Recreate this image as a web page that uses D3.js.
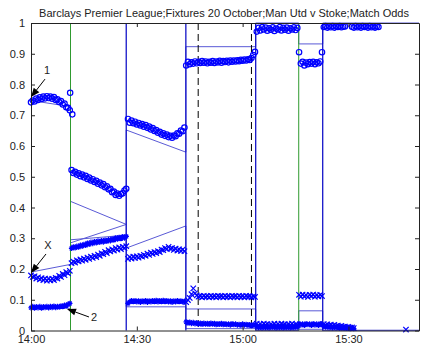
<!DOCTYPE html>
<html>
<head>
<meta charset="utf-8">
<script src="https://cdn.jsdelivr.net/npm/d3@7"></script>
<style>
  body { margin: 0; background: #fff; }
  svg { display: block; font-family: "Liberation Sans", Arial, sans-serif; }
</style>
</head>
<body>
<div id="chart"></div>
<script>
// Match odds sampled every 30 seconds; times are minutes after 14:00
const sampleStep = 0.5;
const xTickMinutes = [0, 30, 60, 90];
const xTickLabels = ["14:00", "14:30", "15:00", "15:30"];
const yTickValues = [0, 0.1, 0.2, 0.3, 0.4, 0.5, 0.6, 0.7, 0.8, 0.9, 1];
const yTickLabels = ["0", "0.1", "0.2", "0.3", "0.4", "0.5", "0.6", "0.7", "0.8", "0.9", "1"];

// [start minute, values]
const homeSegments = [
    [0, [0.742, 0.748, 0.745, 0.754, 0.750, 0.758, 0.753, 0.761, 0.755, 0.762, 0.756, 0.761, 0.754, 0.759, 0.750, 0.752, 0.743, 0.746, 0.735, 0.738, 0.726, 0.724, 0.716]],
    [11.1, [0.773]],
    [11.7, [0.703]],
    [11.5, [0.522, 0.512, 0.516, 0.507, 0.511, 0.502, 0.507, 0.498, 0.503, 0.493, 0.497, 0.488, 0.492, 0.483, 0.487, 0.477, 0.481, 0.472, 0.476, 0.466, 0.469, 0.459, 0.461, 0.450, 0.452, 0.441, 0.445, 0.438, 0.444, 0.446, 0.455, 0.461]],
    [27.5, [0.688, 0.676, 0.683, 0.674, 0.679, 0.670, 0.675, 0.667, 0.671, 0.663, 0.668, 0.659, 0.663, 0.654, 0.658, 0.649, 0.652, 0.643, 0.646, 0.637, 0.641, 0.633, 0.637, 0.629, 0.633, 0.627, 0.634, 0.632, 0.641, 0.640, 0.650, 0.648, 0.660]],
    [44, [0.862, 0.874, 0.866, 0.872, 0.868, 0.875, 0.869, 0.874, 0.870, 0.876, 0.871, 0.875, 0.869, 0.874, 0.871, 0.876, 0.870, 0.875, 0.872, 0.877, 0.871, 0.876, 0.873, 0.877, 0.872, 0.878, 0.874, 0.878, 0.875, 0.879, 0.876, 0.880, 0.877, 0.881, 0.878, 0.882, 0.880, 0.886, 0.896, 0.906]],
    [64, [0.972, 0.984, 0.976, 0.987, 0.979, 0.985, 0.975, 0.983, 0.978, 0.986, 0.974, 0.982, 0.979, 0.987, 0.976, 0.984, 0.978, 0.985, 0.975, 0.983, 0.979, 0.986, 0.977, 0.984]],
    [76, [0.905, 0.868, 0.874, 0.862, 0.871, 0.866, 0.873, 0.868, 0.874, 0.866, 0.872, 0.869, 0.875, 0.905]],
    [83, [0.987, 0.990, 0.985, 0.989, 0.986, 0.990, 0.985, 0.989, 0.987, 0.990, 0.986, 0.988, 0.989]],
    [91, [0.988, 0.985, 0.990, 0.986, 0.989, 0.985, 0.990, 0.987, 0.989, 0.985, 0.990, 0.986, 0.988, 0.985, 0.989, 0.987]]
];

const drawSegments = [
    [0, [0.179, 0.174, 0.176, 0.169, 0.173, 0.166, 0.170, 0.164, 0.169, 0.162, 0.168, 0.163, 0.168, 0.164, 0.171, 0.169, 0.178, 0.174, 0.184, 0.180, 0.190, 0.186, 0.194]],
    [11.5, [0.219, 0.224, 0.221, 0.228, 0.225, 0.231, 0.227, 0.234, 0.230, 0.237, 0.233, 0.240, 0.236, 0.243, 0.239, 0.247, 0.243, 0.251, 0.248, 0.256, 0.252, 0.261, 0.257, 0.264, 0.260, 0.268, 0.263, 0.270, 0.265, 0.272, 0.268, 0.274]],
    [27.5, [0.233, 0.239, 0.234, 0.240, 0.236, 0.241, 0.237, 0.243, 0.240, 0.246, 0.243, 0.250, 0.246, 0.253, 0.249, 0.255, 0.252, 0.258, 0.255, 0.263, 0.261, 0.268, 0.265, 0.272, 0.266, 0.268, 0.262, 0.266, 0.260, 0.264, 0.259, 0.263, 0.258]],
    [44, [0.092, 0.099, 0.106, 0.118, 0.137, 0.121, 0.114, 0.110, 0.112, 0.108, 0.113, 0.109, 0.112, 0.108, 0.113, 0.109, 0.112, 0.108, 0.113, 0.110, 0.112, 0.108, 0.113, 0.109, 0.112, 0.108, 0.113, 0.110, 0.112, 0.108, 0.113, 0.109, 0.112, 0.108, 0.113, 0.110, 0.112, 0.108, 0.111, 0.109]],
    [64, [0.022, 0.017, 0.021, 0.016, 0.022, 0.018, 0.021, 0.016, 0.020, 0.017, 0.022, 0.016, 0.021, 0.017, 0.022, 0.018, 0.020, 0.016, 0.021, 0.017, 0.022, 0.016, 0.020, 0.018]],
    [76, [0.116, 0.110, 0.117, 0.111, 0.115, 0.109, 0.116, 0.112, 0.117, 0.110, 0.115, 0.111, 0.116, 0.112]],
    [83, [0.021, 0.017, 0.020, 0.016, 0.019, 0.015, 0.018, 0.014, 0.016, 0.013, 0.015, 0.012, 0.013, 0.010, 0.012, 0.009, 0.010, 0.008]],
    [106.3, [0.003]]
];

const awaySegments = [
    [0, [0.074, 0.078, 0.073, 0.077, 0.074, 0.078, 0.073, 0.077, 0.075, 0.078, 0.074, 0.078, 0.075, 0.079, 0.075, 0.078, 0.076, 0.080, 0.078, 0.082, 0.081, 0.085, 0.088]],
    [11.5, [0.267, 0.272, 0.269, 0.274, 0.271, 0.277, 0.274, 0.280, 0.277, 0.284, 0.280, 0.287, 0.283, 0.289, 0.285, 0.291, 0.287, 0.292, 0.288, 0.294, 0.290, 0.295, 0.292, 0.298, 0.294, 0.301, 0.297, 0.303, 0.299, 0.305, 0.301, 0.306]],
    [27.5, [0.088, 0.093, 0.097, 0.094, 0.097, 0.093, 0.096, 0.092, 0.096, 0.093, 0.097, 0.092, 0.096, 0.093, 0.097, 0.094, 0.098, 0.093, 0.097, 0.094, 0.098, 0.094, 0.097, 0.093, 0.096, 0.092, 0.096, 0.093, 0.097, 0.094, 0.096, 0.093, 0.095]],
    [44, [0.028, 0.024, 0.027, 0.023, 0.026, 0.022, 0.025, 0.021, 0.024, 0.020, 0.024, 0.021, 0.023, 0.020, 0.024, 0.021, 0.023, 0.019, 0.022, 0.020, 0.023, 0.019, 0.022, 0.019, 0.021, 0.018, 0.022, 0.019, 0.021, 0.018, 0.020, 0.017, 0.021, 0.018, 0.020, 0.017, 0.019, 0.016, 0.019, 0.017]],
    [64, [0.013, 0.010, 0.012, 0.009, 0.013, 0.010, 0.012, 0.009, 0.013, 0.011, 0.012, 0.009, 0.013, 0.010, 0.012, 0.009, 0.012, 0.010, 0.013, 0.009, 0.012, 0.010, 0.013, 0.011]],
    [76, [0.022, 0.018, 0.021, 0.017, 0.022, 0.019, 0.021, 0.017, 0.022, 0.018, 0.021, 0.017, 0.022, 0.019]],
    [83, [0.014, 0.011, 0.013, 0.010, 0.012, 0.009, 0.012, 0.009, 0.011, 0.008, 0.010, 0.008, 0.009, 0.007, 0.008, 0.006, 0.007, 0.006]]
];

// model probabilities, [minute, value] breakpoints (jumps at goals)
const homeModel = [[0, 0.748], [11.2, 0.728], [11.2, 0.42], [27, 0.345], [27, 0.652], [43.9, 0.58], [43.9, 0.923], [63.7, 0.923], [63.7, 1], [75.9, 1], [75.9, 0.932], [82.7, 0.932], [82.7, 1], [110, 1]];
const drawModel = [[0, 0.19], [11.2, 0.215], [11.2, 0.285], [27, 0.345], [27, 0.268], [43.9, 0.34], [43.9, 0.07], [63.7, 0.07], [63.7, 0.002], [75.9, 0.002], [75.9, 0.064], [82.7, 0.064], [82.7, 0.001], [110, 0.001]];
const awayModel = [[0, 0.075], [11.2, 0.072], [11.2, 0.295], [27, 0.31], [27, 0.077], [43.9, 0.077], [43.9, 0.006], [63.7, 0.006], [63.7, 0], [75.9, 0], [75.9, 0.004], [82.7, 0.004], [82.7, 0], [110, 0]];

const goalMinutes = [11.2, 27.0, 43.9, 63.7, 75.9, 82.7];
const goalTeams = ["away", "home", "home", "home", "away", "home"];
const halfTimeMinutes = [47.4, 62.5];

const outcomeLabels = ["1", "X", "2"];
const labelTips = [[0, 0.759], [0, 0.187], [10.2, 0.07]];

const margin = {top: 23, right: 3, bottom: 19.5, left: 31};
const width = 422 - margin.left - margin.right;
const height = 350 - margin.top - margin.bottom;

const svg = d3.select("#chart").append("svg")
    .attr("width", 422)
    .attr("height", 350);

const g = svg.append("g")
    .attr("transform", `translate(${margin.left},${margin.top})`);

const x = d3.scaleLinear().domain([0, 110]).range([0, width]);
const y = d3.scaleLinear().domain([0, 1]).range([height, 0]);

const flatten = segs => segs.flatMap(([t0, vals]) => vals.map((v, i) => ({t: t0 + i * sampleStep, v})));

// model lines
const line = d3.line().x(d => x(d[0])).y(d => y(d[1]));
[homeModel, drawModel, awayModel].forEach(m => {
    g.append("path")
        .attr("d", line(m))
        .attr("fill", "none")
        .attr("stroke", "#5a5ad6")
        .attr("stroke-width", 1);
});

// goal lines
g.selectAll(".goal")
    .data(goalMinutes)
    .enter().append("line")
        .attr("class", "goal")
        .attr("x1", d => x(d)).attr("x2", d => x(d))
        .attr("y1", 0).attr("y2", height)
        .attr("stroke", (d, i) => goalTeams[i] === "home" ? "#1414c8" : "#2f9a2f")
        .attr("stroke-width", (d, i) => goalTeams[i] === "home" ? 1.3 : 1);

// half-time
g.selectAll(".half")
    .data(halfTimeMinutes)
    .enter().append("line")
        .attr("class", "half")
        .attr("x1", d => x(d)).attr("x2", d => x(d))
        .attr("y1", 0).attr("y2", height)
        .attr("stroke", "#000")
        .attr("stroke-dasharray", "7,4");

// markers
const blue = "#0000ff";
g.selectAll(".home")
    .data(flatten(homeSegments))
    .enter().append("circle")
        .attr("cx", d => x(d.t))
        .attr("cy", d => y(d.v))
        .attr("r", 2.7)
        .attr("fill", "none")
        .attr("stroke", blue)
        .attr("stroke-width", 1.2);

const s = 2.7;
const crossPath = `M${-s},${-s}L${s},${s}M${-s},${s}L${s},${-s}`;
const k = s * 0.72;
const starPath = `M${-s},0H${s}M0,${-s}V${s}M${-k},${-k}L${k},${k}M${-k},${k}L${k},${-k}`;

g.selectAll(".draw")
    .data(flatten(drawSegments))
    .enter().append("path")
        .attr("transform", d => `translate(${x(d.t)},${y(d.v)})`)
        .attr("d", crossPath)
        .attr("fill", "none")
        .attr("stroke", blue)
        .attr("stroke-width", 1.2);

g.selectAll(".away")
    .data(flatten(awaySegments))
    .enter().append("path")
        .attr("transform", d => `translate(${x(d.t)},${y(d.v)})`)
        .attr("d", starPath)
        .attr("fill", "none")
        .attr("stroke", blue)
        .attr("stroke-width", 1.2);

// axes, MATLAB style box with inward ticks
g.append("g")
    .attr("transform", `translate(0,${height})`)
    .call(d3.axisBottom(x).tickValues(xTickMinutes).tickFormat((d, i) => xTickLabels[i])
        .tickSizeInner(-4).tickSizeOuter(0).tickPadding(5));
g.append("g")
    .call(d3.axisLeft(y).tickValues(yTickValues).tickFormat((d, i) => yTickLabels[i])
        .tickSizeInner(-4).tickSizeOuter(0).tickPadding(6));
g.append("g")
    .call(d3.axisTop(x).tickValues(xTickMinutes).tickFormat("").tickSizeInner(-4).tickSizeOuter(0));
g.append("g")
    .attr("transform", `translate(${width},0)`)
    .call(d3.axisRight(y).tickValues(yTickValues).tickFormat("").tickSizeInner(-4).tickSizeOuter(0));

g.selectAll(".tick text").attr("font-size", 11).attr("fill", "#222");
g.selectAll(".domain, .tick line").attr("stroke", "#222");

// arrows to each outcome
const tailOffsets = [[14, -18], [15, -19], [22, 8]];
const textOffsets = [[16, -23], [17, -24], [27, 12]];
labelTips.forEach((tip, i) => {
    const tx = x(tip[0]), ty = y(tip[1]);
    const ax = tx + tailOffsets[i][0], ay = ty + tailOffsets[i][1];
    const ang = Math.atan2(ty - ay, tx - ax);
    const hl = 9, hw = 3.5;
    const bx = tx - hl * Math.cos(ang), by = ty - hl * Math.sin(ang);
    g.append("line")
        .attr("x1", ax).attr("y1", ay).attr("x2", bx).attr("y2", by)
        .attr("stroke", "#000");
    g.append("path")
        .attr("d", `M${tx},${ty}L${bx - hw * Math.sin(ang)},${by + hw * Math.cos(ang)}L${bx + hw * Math.sin(ang)},${by - hw * Math.cos(ang)}Z`)
        .attr("fill", "#000");
    g.append("text")
        .attr("x", tx + textOffsets[i][0])
        .attr("y", ty + textOffsets[i][1])
        .attr("text-anchor", "middle")
        .attr("font-size", 11)
        .attr("fill", "#222")
        .text(outcomeLabels[i]);
});

svg.append("text")
    .attr("x", 224)
    .attr("y", 16.5)
    .attr("text-anchor", "middle")
    .attr("font-size", 11)
    .attr("fill", "#222")
    .text("Barclays Premier League;Fixtures 20 October;Man Utd v Stoke;Match Odds");
</script>
</body>
</html>
